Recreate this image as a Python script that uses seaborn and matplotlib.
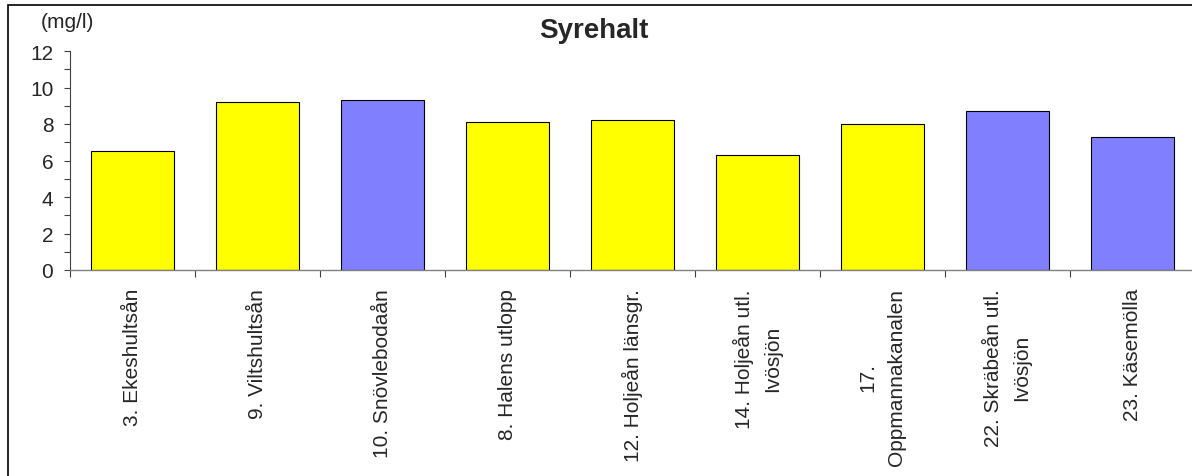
import numpy as np
import pandas as pd
import matplotlib
matplotlib.use("Agg")
import matplotlib.pyplot as plt
from matplotlib.patches import Rectangle
import seaborn as sns

stations = ["3. Ekeshultsån", "9. Viltshultsån", "10. Snövlebodaån", "8. Halens utlopp",
            "12. Holjeån länsgr.", "14. Holjeån utl.\nIvösjön", "17.\nOppmannakanalen",
            "22. Skräbeån utl.\nIvösjön", "23. Käsemölla"]
syrehalt = [6.5, 9.2, 9.3, 8.1, 8.2, 6.3, 8.0, 8.7, 7.3]
bar_colors = ["#FFFF00", "#FFFF00", "#8080FF", "#FFFF00", "#FFFF00",
              "#FFFF00", "#FFFF00", "#8080FF", "#8080FF"]

df = pd.DataFrame({"station": stations, "syrehalt": syrehalt})

sns.set_style("white")
plt.rcParams["font.family"] = ["Liberation Sans", "DejaVu Sans"]

fig = plt.figure(figsize=(11.92, 4.77), dpi=100)
ax = fig.add_axes([70 / 1192, 1 - 271 / 477, 1125 / 1192, 219 / 477])

sns.barplot(data=df, x="station", y="syrehalt", hue="station", palette=bar_colors,
            legend=False, width=0.66, edgecolor="black", linewidth=0.8, saturation=1, ax=ax)

ax.set_xlim(-0.5, len(stations) - 0.5)
ax.set_ylim(0, 12)
ax.set_yticks(np.arange(0, 13, 2))
ax.set_yticks(np.arange(1, 12, 2), minor=True)
ax.set_xlabel("")
ax.set_ylabel("")

ax.set_xticks(np.arange(len(stations)))
ax.set_xticklabels(stations, rotation=90, ha="center", va="top", multialignment="center",
                   linespacing=1.65)
ax.set_xticks(np.arange(len(stations) + 1) - 0.5, minor=True)
ax.tick_params(axis="x", which="major", length=0, pad=13, labelsize=15)
ax.tick_params(axis="x", which="minor", bottom=True, length=5, width=0.8, color="#404040", direction="out")
ax.tick_params(axis="y", which="both", left=True, length=4, width=0.8, color="#404040", direction="out")
ax.tick_params(axis="y", which="major", pad=8, labelsize=15)

for s in ["top", "right"]:
    ax.spines[s].set_visible(False)
ax.spines["left"].set_color("#404040")
ax.spines["left"].set_linewidth(0.8)
ax.spines["bottom"].set_color("#808080")
ax.spines["bottom"].set_linewidth(1.0)

fig.text(594 / 1192, 1 - 31 / 477, "Syrehalt", ha="center", va="center",
         fontsize=20, fontweight="bold")
fig.text(67 / 1192, 1 - 22 / 477, "(mg/l)", ha="center", va="center", fontsize=15)

fig.patches.append(Rectangle((8 / 1192, -0.1), 1.2, 1 - 6 / 477 + 0.1, transform=fig.transFigure,
                             fill=False, edgecolor="black", linewidth=1.2))

fig.savefig("out.png", dpi=100)
